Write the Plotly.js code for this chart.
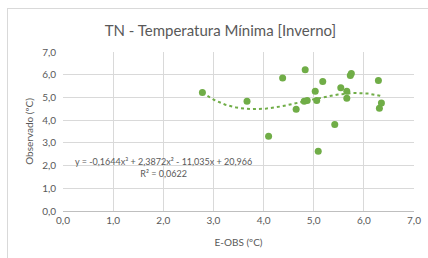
<!DOCTYPE html>
<html>
<head>
<meta charset="utf-8">
<script src="https://cdn.plot.ly/plotly-3.0.1.min.js"></script>
<style>
  html, body { margin: 0; padding: 0; background: #fff; }
  #wrap { position: relative; width: 428px; height: 258px; overflow: hidden; }
  #chart { position: absolute; left: 0; top: 0; width: 428px; height: 258px; }
  #frame { position: absolute; left: 7px; top: 8px; width: 440px; height: 270px;
           border: 1px solid #d9d9d9; pointer-events: none; box-sizing: border-box; }
</style>
</head>
<body>
<div id="wrap"><div id="chart"></div><div id="frame"></div></div>
<script>
// Data
const eobs = [2.78, 3.67, 4.10, 4.38, 4.65, 4.81, 4.83, 4.87, 5.03, 5.06, 5.09,
              5.18, 5.42, 5.54, 5.66, 5.66, 5.73, 5.75, 6.29, 6.31, 6.35];
const observado = [5.22, 4.83, 3.29, 5.86, 4.48, 4.83, 6.22, 4.87, 5.27, 4.87, 2.63,
                   5.70, 3.81, 5.43, 5.27, 4.96, 5.96, 6.05, 5.74, 4.52, 4.76];
// Trendline coefficients shown on the chart (a3, a2, a1, a0)
const trendCoef = [-0.1644, 2.3872, -11.035, 20.966];
const trendLabel = "y = -0,1644x³ + 2,3872x² - 11,035x + 20,966<br>R² = 0,0622";
const axisTicks = [0, 1, 2, 3, 4, 5, 6, 7];
const titleText = "TN - Temperatura Mínima [Inverno]";
const xTitle = "E-OBS (ºC)";
const yTitle = "Observado (ºC)";

const xmin = Math.min(...eobs), xmax = Math.max(...eobs);
const tx = [], ty = [];
const N = 120;
for (let i = 0; i <= N; i++) {
  const x = xmin + (xmax - xmin) * i / N;
  tx.push(x);
  ty.push(((trendCoef[0] * x + trendCoef[1]) * x + trendCoef[2]) * x + trendCoef[3]);
}

const green = '#70ad47';
const grey = '#595959';
const font = 'Lato, "Open Sans", "Liberation Sans", sans-serif';

const traces = [
  { x: tx, y: ty, mode: 'lines', type: 'scatter',
    line: { color: green, width: 2, dash: 'dot' }, hoverinfo: 'skip' },
  { x: eobs, y: observado, mode: 'markers', type: 'scatter',
    marker: { color: green, size: 7 } }
];

const axisCommon = {
  range: [0, 7], tickvals: axisTicks, tickformat: '.1f',
  showgrid: true, gridcolor: '#d9d9d9', gridwidth: 1,
  zeroline: false, ticks: '', tickfont: { family: font, size: 10, color: grey },
  fixedrange: true
};

const layout = {
  width: 428, height: 258,
  margin: { l: 63, r: 14, t: 52, b: 47 },
  paper_bgcolor: 'rgba(0,0,0,0)', plot_bgcolor: '#fff',
  separators: ',.',
  showlegend: false,
  font: { family: font, color: grey },
  title: { text: titleText, font: { family: font, size: 15, color: grey },
           x: 0.515, xanchor: 'center', y: 0.88, yanchor: 'middle' },
  xaxis: Object.assign({}, axisCommon, {
    title: { text: xTitle, font: { family: font, size: 10, color: grey }, standoff: 13 },
    showline: true, linecolor: '#bfbfbf', linewidth: 1
  }),
  yaxis: Object.assign({}, axisCommon, {
    title: { text: yTitle, font: { family: font, size: 10, color: grey }, standoff: 6 },
    showline: false, ticklabelstandoff: 6
  }),
  annotations: [{
    xref: 'x', yref: 'y', x: 2.0, y: 1.9, text: trendLabel, showarrow: false,
    font: { family: font, size: 9, color: grey }, align: 'center',
    xanchor: 'center', yanchor: 'middle'
  }]
};

Plotly.newPlot('chart', traces, layout, { staticPlot: true, displayModeBar: false });
</script>
</body>
</html>
